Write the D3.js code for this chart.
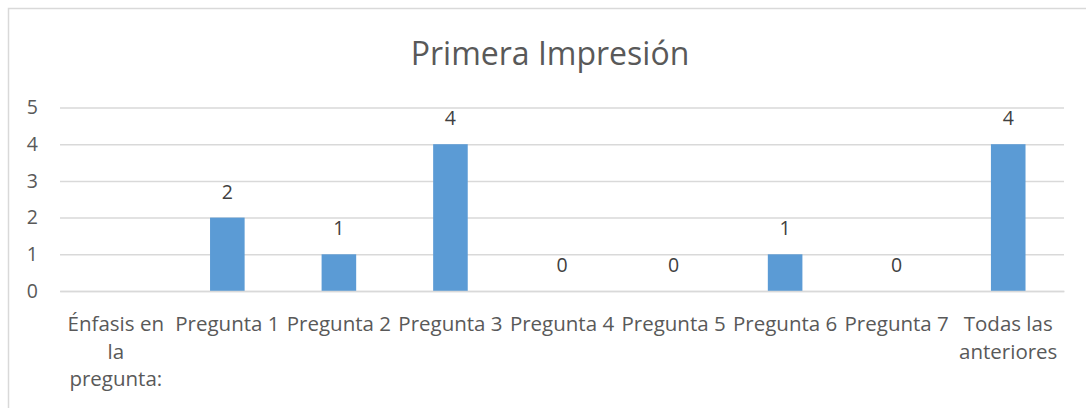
<!DOCTYPE html>
<html>
<head>
<meta charset="utf-8">
<script src="https://cdn.jsdelivr.net/npm/d3@7"></script>
<style>
  body { margin: 0; background: #fff; }
  svg text { font-family: "Open Sans", "Noto Sans", sans-serif; }
</style>
</head>
<body>
<div class="container"></div>
<script>
// categories (each entry is the lines of the label) and values
const categories = [
  ["Énfasis en", "la", "pregunta:"],
  ["Pregunta 1"],
  ["Pregunta 2"],
  ["Pregunta 3"],
  ["Pregunta 4"],
  ["Pregunta 5"],
  ["Pregunta 6"],
  ["Pregunta 7"],
  ["Todas las", "anteriores"]
];
const values = [null, 2, 1, 4, 0, 0, 1, 0, 4];
const yTicks = [0, 1, 2, 3, 4, 5];
const title = "Primera Impresión";

const width = 1086;
const height = 408;
const margin = { top: 107.5, right: 22, bottom: 117, left: 60 };

const barColor = "#5B9BD5";
const gridColor = "#d9d9d9";
const textColor = "#595959";
const fontSize = 19.5;

const svg = d3.select(".container")
  .append("svg")
  .attr("width", width)
  .attr("height", height);

// chart outer border (only top and left are inside the picture)
svg.append("rect")
  .attr("x", 8.5)
  .attr("y", 8.5)
  .attr("width", 1100)
  .attr("height", 420)
  .attr("fill", "none")
  .attr("stroke", gridColor)
  .attr("stroke-width", 1.5);

const ids = categories.map((c, i) => i);

// band for the bars, narrow
const x = d3.scaleBand()
  .domain(ids)
  .range([margin.left, width - margin.right])
  .paddingInner(0.69)
  .paddingOuter(0.345);

// full band for the category labels
const xb = d3.scaleBand()
  .domain(ids)
  .range([margin.left, width - margin.right]);

const y = d3.scaleLinear()
  .domain([0, 5])
  .range([height - margin.bottom, margin.top]);

// title
svg.append("text")
  .attr("x", 550)
  .attr("y", 65)
  .attr("text-anchor", "middle")
  .attr("font-size", 32)
  .attr("fill", textColor)
  .text(title);

// y axis with gridlines
const yAxis = svg.append("g")
  .attr("transform", `translate(${margin.left},0)`)
  .call(d3.axisLeft(y)
    .tickValues(yTicks)
    .tickSize(-(width - margin.left - margin.right))
    .tickPadding(22)
    .tickFormat(d3.format("d")));
yAxis.select(".domain").remove();
yAxis.selectAll(".tick line")
  .attr("stroke", gridColor)
  .attr("stroke-width", 1.5);
yAxis.selectAll(".tick text")
  .attr("font-size", fontSize)
  .attr("fill", textColor);

// bars and value labels
const bars = svg.append("g");
values.forEach((v, i) => {
  if (v === null) return;
  bars.append("rect")
    .attr("x", x(i))
    .attr("y", y(v))
    .attr("width", x.bandwidth())
    .attr("height", y(0) - y(v))
    .attr("fill", barColor);
  bars.append("text")
    .attr("x", x(i) + x.bandwidth() / 2)
    .attr("y", y(v) - 19)
    .attr("text-anchor", "middle")
    .attr("font-size", fontSize)
    .attr("fill", "#404040")
    .text(v);
});

// x axis line and category labels
const xAxis = svg.append("g")
  .attr("transform", `translate(0,${y(0)})`)
  .call(d3.axisBottom(xb).tickSize(0).tickFormat(""));
xAxis.select(".domain")
  .attr("stroke", gridColor)
  .attr("stroke-width", 1.5);

xAxis.selectAll(".tick").each(function (d) {
  const t = d3.select(this).select("text")
    .attr("font-size", 20.5)
    .attr("fill", textColor)
    .attr("y", 0)
    .attr("dy", 0);
  categories[d].forEach((line, k) => {
    t.append("tspan")
      .attr("x", 0)
      .attr("y", 40 + k * 27.5)
      .text(line);
  });
});
</script>
</body>
</html>
